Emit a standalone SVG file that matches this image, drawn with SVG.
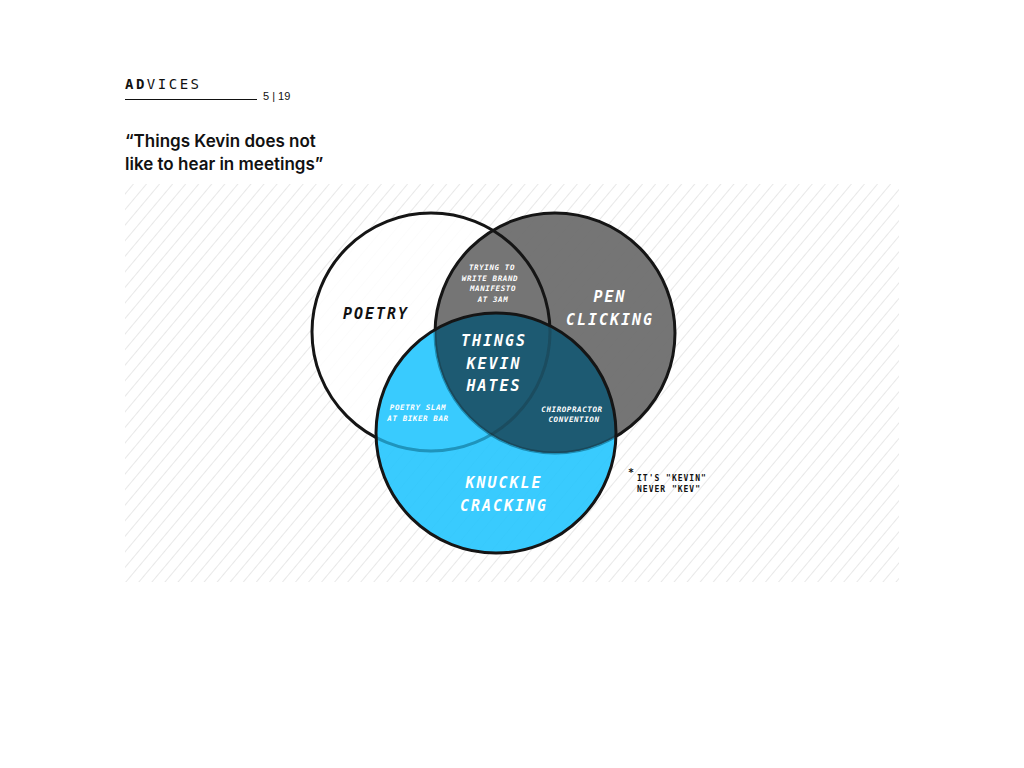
<svg xmlns="http://www.w3.org/2000/svg" width="1024" height="768" viewBox="0 0 1024 768">
<defs>
<pattern id="hatch" width="10" height="10" patternUnits="userSpaceOnUse" patternTransform="rotate(40)">
<line x1="0" y1="0" x2="0" y2="10" stroke="#dcdcdc" stroke-width="1.3"/>
</pattern>
<clipPath id="clipB"><circle cx="555" cy="333" r="120"/></clipPath>
<clipPath id="clipC"><circle cx="496" cy="433" r="120"/></clipPath>
</defs>
<style>
.lab{font-family:"DejaVu Sans Mono","Liberation Mono",monospace;font-style:italic;font-weight:bold;fill:#fff;text-anchor:middle}
.big{font-size:15px;letter-spacing:2px}
.sm{font-size:7.5px;letter-spacing:0.6px}
.ring{fill:none;stroke:#151515;stroke-width:3}
</style>
<rect width="1024" height="768" fill="#fff"/>
<g id="header">
<text x="125" y="89" font-family="'DejaVu Sans Mono',monospace" font-size="14" font-weight="bold" letter-spacing="2.5" fill="#111">AD<tspan font-weight="normal">VICES</tspan></text>
<line x1="125" y1="99.5" x2="257" y2="99.5" stroke="#111" stroke-width="1"/>
<text x="263" y="100" font-family="'Liberation Sans',sans-serif" font-size="11" fill="#111">5 | 19</text>
<text x="125" y="147" font-family="Inter,'Liberation Sans',sans-serif" font-size="17" font-weight="600" fill="#111">“Things Kevin does not</text>
<text x="125" y="170" font-family="Inter,'Liberation Sans',sans-serif" font-size="17" font-weight="600" fill="#111">like to hear in meetings”</text>
</g>
<rect x="125" y="184" width="774" height="398" fill="url(#hatch)"/>
<g id="poetry"><circle cx="431" cy="332" r="119" fill="#fff" fill-opacity="0.85"/></g>
<g id="pen"><circle cx="555" cy="333" r="120" fill="#6e6e6e" fill-opacity="0.95"/></g>
<circle cx="431" cy="332" r="119" class="ring"/>
<circle cx="555" cy="333" r="120" class="ring"/>
<g id="knuckle">
<circle cx="496" cy="433" r="120" fill="#23c5fe" fill-opacity="0.9"/>
<circle cx="496" cy="433" r="120" fill="#1e5a72" clip-path="url(#clipB)" fill-opacity="0.92"/>
<circle cx="555" cy="333" r="120" fill="#1e5a72" clip-path="url(#clipC)" fill-opacity="0.95"/>
<circle cx="431" cy="332" r="119" fill="none" stroke="#151515" stroke-opacity="0.2" stroke-width="3" clip-path="url(#clipC)"/>
<circle cx="555" cy="333" r="120" fill="none" stroke="#151515" stroke-opacity="0.25" stroke-width="3" clip-path="url(#clipC)"/>
<circle cx="496" cy="433" r="120" class="ring"/>
</g>
<g id="labels">
<text class="lab big" x="376" y="319" style="fill:#111">POETRY</text>
<text class="lab big" x="610" y="302">PEN</text>
<text class="lab big" x="610" y="325">CLICKING</text>
<text class="lab big" x="504" y="488">KNUCKLE</text>
<text class="lab big" x="504" y="511">CRACKING</text>
<text class="lab big" x="494" y="346">THINGS</text>
<text class="lab big" x="494" y="369">KEVIN</text>
<text class="lab big" x="494" y="391">HATES</text>
<text class="lab sm" x="492" y="270">TRYING TO</text>
<text class="lab sm" x="490" y="281">WRITE BRAND</text>
<text class="lab sm" x="493" y="291">MANIFESTO</text>
<text class="lab sm" x="493" y="302">AT 3AM</text>
<text class="lab sm" x="418" y="410">POETRY SLAM</text>
<text class="lab sm" x="418" y="421">AT BIKER BAR</text>
<text class="lab sm" x="572" y="412">CHIROPRACTOR</text>
<text class="lab sm" x="574" y="422">CONVENTION</text>
</g>
<g id="note" font-family="'DejaVu Sans Mono',monospace" font-size="8" font-weight="bold" letter-spacing="1" fill="#111">
<text x="628" y="476" font-size="10">*</text>
<text x="637" y="481">IT'S "KEVIN"</text>
<text x="637" y="492">NEVER "KEV"</text>
</g>
</svg>
